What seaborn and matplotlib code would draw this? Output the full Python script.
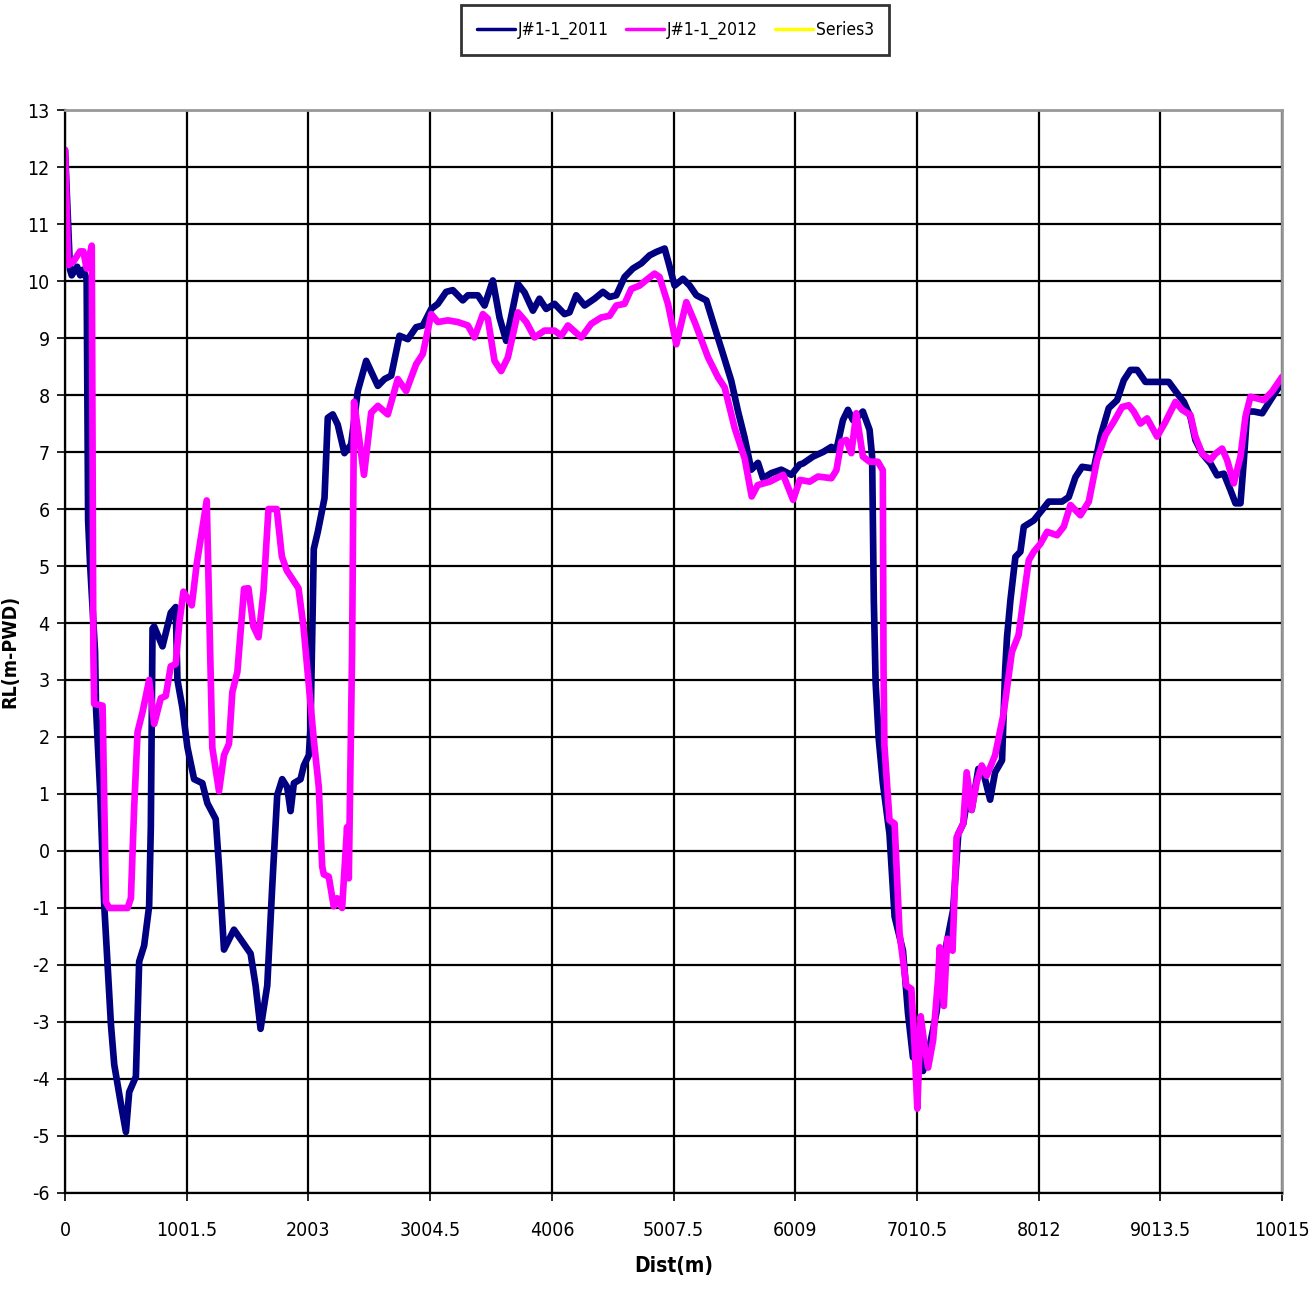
import numpy as np
import pandas as pd
import matplotlib
matplotlib.use("Agg")
import matplotlib.pyplot as plt
from matplotlib import font_manager
from matplotlib.ticker import FuncFormatter
import seaborn as sns

# Survey section J#1-1: bed level (RL, m-PWD) against chainage (m)
dist_2011 = [0, 41, 55, 100, 125, 150, 178, 185, 190, 206, 247, 255, 290, 323, 378, 405,
             460, 501, 528, 583, 610, 651, 692, 706, 720, 733, 802, 870, 911, 925, 966,
             1007, 1062, 1130, 1171, 1240, 1267, 1308, 1390, 1459, 1527, 1568, 1609, 1664,
             1705, 1746, 1787, 1828, 1856, 1883, 1938, 1965, 2006, 2020, 2047, 2080, 2135,
             2162, 2203, 2244, 2299, 2354, 2409, 2478, 2574, 2629, 2684, 2752, 2821, 2889,
             2944, 3013, 3068, 3136, 3191, 3273, 3315, 3397, 3452, 3520, 3575, 3630, 3726,
             3781, 3850, 3904, 3959, 4028, 4110, 4151, 4206, 4275, 4357, 4426, 4481, 4536,
             4604, 4673, 4742, 4810, 4865, 4934, 4975, 5016, 5085, 5140, 5195, 5277, 5345,
             5414, 5482, 5537, 5592, 5647, 5702, 5743, 5812, 5894, 5976, 6045, 6073, 6155,
             6237, 6306, 6347, 6401, 6442, 6483, 6524, 6565, 6620, 6641, 6655, 6670, 6695,
             6729, 6784, 6826, 6895, 6936, 6977, 7032, 7060, 7102, 7170, 7253, 7308, 7350,
             7391, 7419, 7460, 7515, 7556, 7612, 7653, 7710, 7736, 7751, 7779, 7820, 7861,
             7889, 7971, 8039, 8094, 8204, 8259, 8314, 8369, 8465, 8520, 8588, 8657, 8712,
             8767, 8822, 8890, 8986, 9082, 9151, 9206, 9260, 9301, 9357, 9425, 9480, 9535,
             9590, 9631, 9672, 9700, 9727, 9782, 9851, 9919, 10015]
rl_2011 = [12.3, 10.2, 10.1, 10.25, 10.1, 10.2, 10.03, 7.5, 5.8, 5.04, 3.5, 2.51, 1.0, -0.97,
           -3.05, -3.75, -4.44, -4.93, -4.23, -3.96, -1.94, -1.66, -0.97, 0.42, 3.9, 3.94,
           3.59, 4.18, 4.28, 3.0, 2.51, 1.82, 1.26, 1.19, 0.84, 0.56, -0.27, -1.73, -1.38,
           -1.59, -1.8, -2.36, -3.12, -2.36, -0.62, 0.98, 1.26, 1.12, 0.70, 1.19, 1.26, 1.5,
           1.68, 2.16, 5.3, 5.6, 6.19, 7.6, 7.66, 7.48, 6.98, 7.13, 8.07, 8.6, 8.16, 8.28,
           8.34, 9.04, 8.98, 9.19, 9.22, 9.51, 9.6, 9.81, 9.84, 9.66, 9.75, 9.75, 9.57, 10.01,
           9.36, 8.95, 9.95, 9.8, 9.48, 9.69, 9.51, 9.6, 9.42, 9.45, 9.75, 9.57, 9.69, 9.81,
           9.72, 9.75, 10.07, 10.22, 10.31, 10.45, 10.51, 10.57, 10.25, 9.92, 10.04, 9.92,
           9.75, 9.66, 9.19, 8.72, 8.25, 7.72, 7.25, 6.69, 6.81, 6.54, 6.63, 6.69, 6.6, 6.78,
           6.8, 6.92, 7.0, 7.09, 7.04, 7.56, 7.74, 7.56, 7.62, 7.71, 7.39, 6.92, 4.4, 2.95,
           1.98, 1.2, 0.3, -1.15, -1.75, -2.84, -3.62, -3.26, -3.86, -3.56, -2.84, -1.63,
           -1.03, 0.3, 0.48, 0.84, 0.72, 1.44, 1.38, 0.9, 1.38, 1.59, 3.19, 3.75, 4.4, 5.16,
           5.25, 5.69, 5.8, 5.98, 6.13, 6.13, 6.21, 6.56, 6.74, 6.71, 7.27, 7.77, 7.91, 8.26,
           8.44, 8.44, 8.23, 8.23, 8.23, 8.03, 7.88, 7.62, 7.21, 6.97, 6.8, 6.59, 6.62, 6.33,
           6.1, 6.1, 6.86, 7.71, 7.71, 7.68, 7.91, 8.23]

dist_2012 = [0, 27, 69, 123, 151, 178, 220, 233, 240, 309, 337, 364, 515, 542, 569, 597,
             638, 692, 734, 788, 829, 870, 911, 939, 974, 1043, 1084, 1166, 1194, 1212,
             1267, 1308, 1349, 1377, 1418, 1473, 1509, 1550, 1592, 1633, 1674, 1742, 1784,
             1825, 1921, 1962, 1993, 2047, 2088, 2116, 2129, 2170, 2211, 2239, 2280, 2321,
             2335, 2362, 2378, 2415, 2460, 2519, 2574, 2656, 2738, 2807, 2889, 2944, 3013,
             3068, 3150, 3232, 3315, 3369, 3438, 3479, 3534, 3589, 3644, 3726, 3795, 3863,
             3945, 4028, 4083, 4138, 4248, 4330, 4412, 4481, 4536, 4604, 4659, 4728, 4796,
             4851, 4892, 4961, 5030, 5112, 5181, 5291, 5373, 5428, 5510, 5592, 5650, 5700,
             5800, 5909, 5991, 6046, 6128, 6196, 6306, 6347, 6388, 6429, 6470, 6511, 6565,
             6620, 6688, 6729, 6735, 6742, 6784, 6826, 6867, 6922, 6964, 6991, 7013, 7041,
             7074, 7102, 7143, 7184, 7198, 7231, 7259, 7303, 7336, 7391, 7419, 7460, 7501,
             7543, 7584, 7653, 7722, 7791, 7846, 7930, 7971, 8026, 8081, 8163, 8218, 8273,
             8355, 8424, 8492, 8561, 8629, 8698, 8753, 8794, 8849, 8904, 8986, 9055, 9137,
             9192, 9260, 9301, 9357, 9425, 9466, 9521, 9562, 9617, 9672, 9713, 9754, 9809,
             9864, 9932, 10015]
rl_2012 = [12.3, 10.28, 10.34, 10.52, 10.52, 10.22, 10.62, 3.5, 2.58, 2.55, -0.9, -1.0, -1.0,
           -0.83, 0.77, 2.09, 2.44, 3.0, 2.23, 2.68, 2.72, 3.24, 3.28, 3.97, 4.55, 4.31, 5.04,
           6.15, 3.52, 1.81, 1.05, 1.68, 1.88, 2.79, 3.14, 4.6, 4.61, 3.94, 3.75, 4.55, 6.0,
           6.0, 5.17, 4.92, 4.61, 3.94, 3.21, 1.95, 1.12, -0.27, -0.41, -0.45, -0.97, -0.83,
           -1.0, 0.42, -0.48, 3.48, 7.88, 7.32, 6.6, 7.69, 7.81, 7.66, 8.28, 8.07, 8.54, 8.72,
           9.42, 9.28, 9.31, 9.28, 9.22, 9.01, 9.42, 9.34, 8.6, 8.42, 8.66, 9.45, 9.28, 9.01,
           9.13, 9.13, 9.04, 9.22, 9.01, 9.25, 9.36, 9.39, 9.57, 9.6, 9.86, 9.92, 10.04,
           10.13, 10.07, 9.6, 8.89, 9.63, 9.28, 8.66, 8.31, 8.13, 7.42, 6.89, 6.22, 6.42,
           6.48, 6.6, 6.16, 6.51, 6.48, 6.57, 6.54, 6.68, 7.18, 7.21, 6.98, 7.68, 6.92, 6.83,
           6.83, 6.68, 3.19, 1.86, 0.54, 0.48, -1.45, -2.36, -2.42, -3.44, -4.52, -2.9, -3.44,
           -3.8, -3.32, -2.24, -1.69, -2.72, -1.54, -1.75, 0.24, 0.48, 1.38, 0.72, 1.2, 1.5,
           1.32, 1.68, 2.4, 3.49, 3.79, 5.1, 5.25, 5.39, 5.6, 5.54, 5.69, 6.07, 5.89, 6.13,
           6.86, 7.3, 7.53, 7.79, 7.82, 7.71, 7.5, 7.59, 7.27, 7.53, 7.88, 7.74, 7.65, 7.27,
           6.97, 6.86, 6.97, 7.06, 6.86, 6.45, 6.92, 7.62, 7.97, 7.94, 7.91, 8.06, 8.32]

# Series3 has no points in the original workbook
dist_s3 = []
rl_s3 = []

x_ticks = [0, 1001.5, 2003, 3004.5, 4006, 5007.5, 6009, 7010.5, 8012, 9013.5, 10015]
y_ticks = list(range(-6, 14))

sns.set_theme(style="white")
# try for a narrow face like the original Arial Narrow
fonts = font_manager.fontManager.ttflist
names = {f.name for f in fonts}
if "Liberation Sans Narrow" in names:
    plt.rcParams["font.family"] = ["Liberation Sans Narrow", "DejaVu Sans"]
elif any(f.name == "DejaVu Sans" and f.stretch == "condensed" for f in fonts):
    plt.rcParams["font.family"] = ["DejaVu Sans"]
    plt.rcParams["font.stretch"] = "condensed"
else:
    plt.rcParams["font.family"] = ["Liberation Sans", "DejaVu Sans"]
plt.rcParams["axes.unicode_minus"] = False
for key in ["text.color", "axes.labelcolor", "xtick.color", "ytick.color"]:
    plt.rcParams[key] = "black"

df11 = pd.DataFrame({"dist": dist_2011, "rl": rl_2011})
df12 = pd.DataFrame({"dist": dist_2012, "rl": rl_2012})

fig = plt.figure(figsize=(13.11, 12.96), dpi=100)
ax = fig.add_axes([0.0496, 0.0795, 0.9284, 0.8356])

sns.lineplot(data=df11, x="dist", y="rl", ax=ax, color="#000080", lw=4.8,
             sort=False, estimator=None, label="J#1-1_2011")
sns.lineplot(data=df12, x="dist", y="rl", ax=ax, color="#FF00FF", lw=4.8,
             sort=False, estimator=None, label="J#1-1_2012")
ax.plot(dist_s3, rl_s3, color="#FFFF00", lw=4.8, label="Series3")

ax.set_xlim(0, 10015)
ax.set_ylim(-6, 13)
ax.set_xticks(x_ticks)
ax.set_yticks(y_ticks)
ax.xaxis.set_major_formatter(FuncFormatter(lambda v, p: f"{v:g}"))
ax.grid(True, color="black", lw=1.6)
ax.set_axisbelow(True)

for side in ["left", "bottom"]:
    ax.spines[side].set_color("black")
    ax.spines[side].set_linewidth(1.6)
for side in ["top", "right"]:
    ax.spines[side].set_color("#999999")
    ax.spines[side].set_linewidth(2)

ax.tick_params(axis="both", direction="out", length=6, width=1.2, color="black",
               labelsize=14, left=True, bottom=True)
ax.tick_params(axis="x", pad=14)
ax.tick_params(axis="y", pad=5)
ax.set_xlabel("Dist(m)", fontsize=15, fontweight="bold", labelpad=12)
ax.set_ylabel("RL(m-PWD)", fontsize=14, fontweight="bold", labelpad=6)

ax.get_legend().remove()
handles, labels = ax.get_legend_handles_labels()
leg = fig.legend(handles, labels, loc="center", bbox_to_anchor=(0.515, 0.977), ncol=3,
                 frameon=True, fancybox=False, fontsize=12.5, handlelength=2.2,
                 columnspacing=1.0, handletextpad=0.15, borderpad=0.9)
leg.get_frame().set_edgecolor("black")
leg.get_frame().set_linewidth(2)
for line in leg.get_lines():
    line.set_linewidth(2.5)

fig.savefig("out.png", dpi=100)
